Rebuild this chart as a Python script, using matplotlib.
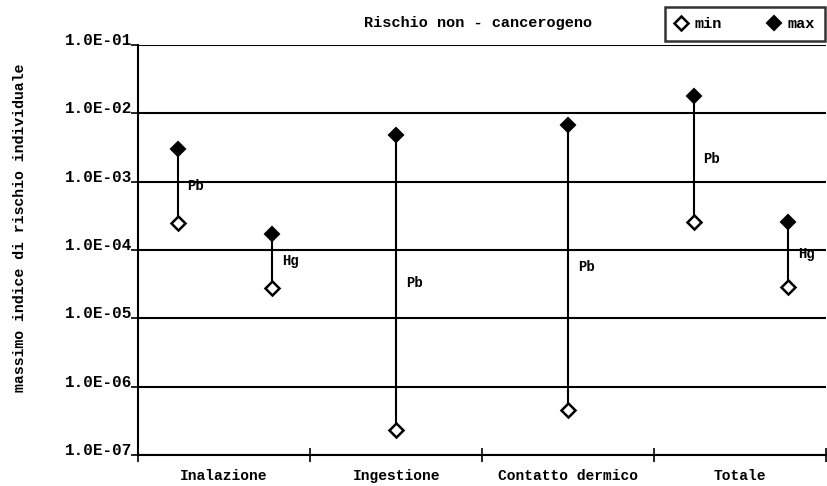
import numpy as np
import matplotlib.pyplot as plt

# categorie di esposizione e valori dell'indice di rischio (min / max)
categorie = ["Inalazione", "Ingestione", "Contatto dermico", "Totale"]
sostanze = ["Pb", "Hg", "Pb", "Pb", "Pb", "Hg"]
posizioni = [0.23, 0.78, 1.5, 2.5, 3.23, 3.78]
rischio_min = [2.5e-4, 2.8e-5, 2.3e-7, 4.6e-7, 2.6e-4, 2.9e-5]
rischio_max = [3.0e-3, 1.7e-4, 4.8e-3, 6.8e-3, 1.8e-2, 2.6e-4]
tick_y = [1e-1, 1e-2, 1e-3, 1e-4, 1e-5, 1e-6, 1e-7]
tick_y_lab = ["1.0E-01", "1.0E-02", "1.0E-03", "1.0E-04", "1.0E-05", "1.0E-06", "1.0E-07"]

plt.rcParams['font.family'] = ['Liberation Mono', 'DejaVu Sans Mono']
plt.rcParams['font.weight'] = 'bold'

fig = plt.figure(figsize=(8.27, 4.86), dpi=100)
ax = fig.add_axes([0.167, 0.064, 0.832, 0.843])

ax.set_yscale('log')
ax.set_ylim(1e-7, 1e-1)
ax.set_xlim(0, 4)

# griglia orizzontale per ogni decade
for v in tick_y:
    ax.axhline(v, color='black', lw=1.5, zorder=1)

# barre min-max con marcatori
for x, lo, hi, s in zip(posizioni, rischio_min, rischio_max, sostanze):
    ax.plot([x, x], [lo, hi], color='black', lw=1.5, zorder=2)
    mid = np.sqrt(lo * hi)
    ax.annotate(s, (x, mid), xytext=(7, 0), textcoords='offset points',
                fontsize=10, fontweight='bold', va='center', ha='left')

ax.plot(posizioni, rischio_min, linestyle='none', marker='D', ms=7,
        mfc='white', mec='black', mew=1.8, zorder=3, label='min')
ax.plot(posizioni, rischio_max, linestyle='none', marker='D', ms=7,
        mfc='black', mec='black', mew=1.5, zorder=3, label='max')

ax.set_yticks(tick_y)
ax.set_yticklabels(tick_y_lab, fontsize=11.5, fontweight='bold')
for t in ax.get_yticklabels():
    t.set_verticalalignment('baseline')
ax.yaxis.set_minor_locator(plt.NullLocator())
ax.tick_params(axis='y', direction='out', length=5, width=1.2, pad=-1)

ax.set_xticks([0, 1, 2, 3, 4])
ax.set_xticklabels([])
ax.set_xticks([0.5, 1.5, 2.5, 3.5], minor=True)
ax.set_xticklabels(categorie, minor=True, fontsize=10.5, fontweight='bold')
ax.tick_params(axis='x', which='major', direction='inout', length=10, width=1.2)
ax.tick_params(axis='x', which='minor', length=0, pad=10)

for side in ['top', 'right']:
    ax.spines[side].set_visible(False)
for side in ['left', 'bottom']:
    ax.spines[side].set_linewidth(1.5)

fig.text(0.024, 0.531, "massimo indice di rischio individuale", fontsize=10.7,
         fontweight='bold', rotation=90, ha='center', va='center')

fig.text(0.578, 0.953, "Rischio non - cancerogeno", fontsize=11,
         fontweight='bold', ha='center', va='center')

leg = ax.legend(loc='lower right', bbox_to_anchor=(0.9984, 1.01), ncol=2,
                frameon=True, fancybox=False, edgecolor='black',
                handlelength=0.8, handletextpad=0.5, borderaxespad=0,
                columnspacing=3.0, borderpad=0.65, prop={'weight': 'bold', 'size': 11})
leg.get_frame().set_linewidth(1.8)

fig.savefig('out.png', dpi=100)
